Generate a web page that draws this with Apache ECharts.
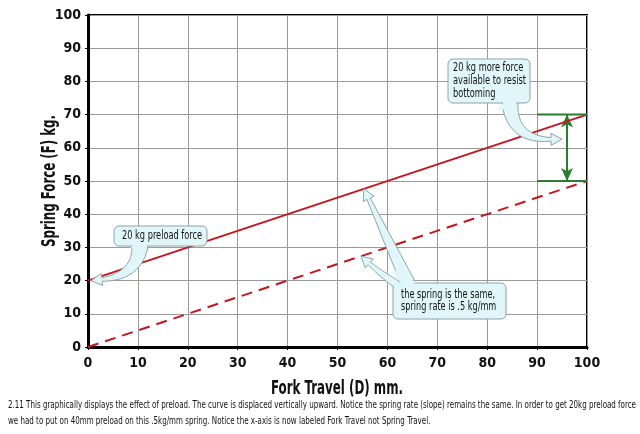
<!DOCTYPE html>
<html><head><meta charset="utf-8">
<script src="https://cdn.jsdelivr.net/npm/echarts@6/dist/echarts.min.js"></script>
<style>html,body{margin:0;padding:0;background:#fff}#c{width:640px;height:434px}</style>
</head><body><div id="c"></div>
<script>
// ---- data ----
const axisMin = 0, axisMax = 100, axisStep = 10;
const preloadLine = [[0, 20], [100, 70]];     // with 20 kg preload
const noPreloadLine = [[0, 0], [100, 50]];    // without preload (dashed)
const diffTop = [[90, 70], [100, 70]];
const diffBottom = [[90, 50], [100, 50]];
const diffArrow = [[96, 70], [96, 50]];
const xName = 'Fork Travel (D) mm.';
const yName = 'Spring Force (F) kg.';
const captionLines = [
  '2.11 This graphically displays the effect of preload. The curve is displaced vertically upward. Notice the spring rate (slope) remains the same. In order to get 20kg preload force',
  'we had to put on 40mm preload on this .5kg/mm spring. Notice the x-axis is now labeled Fork Travel not Spring Travel.'
];
const callout1Text = '20 kg preload force';
const callout2Text = '20 kg more force\navailable to resist\nbottoming';
const callout3Text = 'the spring is the same,\nspring rate is .5 kg/mm';
const tip1 = [0.4, 20];
const tip2 = [95, 62.6];
const tip3a = [55.3, 47.65];
const tip3b = [54.7, 27.35];

const NF = "'Liberation Sans Narrow','DejaVu Sans Condensed',sans-serif";
const RED = '#c4161c', GREEN = '#2a7d2e';
const FILL = '#e1f6f8', STROKE = '#8fa3a8';

const ctx = document.createElement('canvas').getContext('2d');
function measure(t, size, weight) { ctx.font = (weight || 'normal') + ' ' + size + 'px ' + NF; return ctx.measureText(t).width; }

const chart = echarts.init(document.getElementById('c'), null, {renderer: 'canvas'});
const axisCommon = {
  type: 'value', min: axisMin, max: axisMax, interval: axisStep,
  axisLine: {show: true, onZero: false, lineStyle: {color: '#000', width: 3}},
  axisTick: {show: true, length: 3, lineStyle: {color: '#000', width: 1}},
  axisLabel: {fontFamily: NF, fontWeight: 'bold', fontSize: 14, color: '#111'},
  splitLine: {show: true, lineStyle: {color: '#9a9a9a', width: 1}}
};
chart.setOption({
  animation: false,
  backgroundColor: '#fff',
  grid: {left: 88, right: 53, top: 15, bottom: 87, show: true, borderColor: '#000', borderWidth: 2, backgroundColor: 'transparent'},
  xAxis: Object.assign({}, axisCommon, {axisLabel: Object.assign({}, axisCommon.axisLabel, {margin: 9})}),
  yAxis: Object.assign({}, axisCommon, {axisLabel: Object.assign({}, axisCommon.axisLabel, {margin: 7})}),
  series: [
    {type: 'line', data: preloadLine, symbol: 'none', lineStyle: {color: RED, width: 2}, z: 5},
    {type: 'line', data: noPreloadLine, symbol: 'none', lineStyle: {color: RED, width: 2, type: [11, 7]}, z: 5},
    {type: 'line', data: diffTop, symbol: 'none', lineStyle: {color: GREEN, width: 2}, z: 6},
    {type: 'line', data: diffBottom, symbol: 'none', lineStyle: {color: GREEN, width: 2}, z: 6,
      markLine: {silent: true, symbol: ['arrow', 'arrow'], symbolSize: [9, 13], label: {show: false},
        lineStyle: {color: GREEN, width: 2, type: 'solid'},
        data: [[{coord: diffArrow[0]}, {coord: diffArrow[1]}]]}}
  ]
});

function px(d) { return chart.convertToPixel({gridIndex: 0}, d); }
function tailPoints(b, hw, c, t) {
  const head = 11, wing = 6, neckHW = 1.8;
  let dx = t[0] - c[0], dy = t[1] - c[1]; const L = Math.hypot(dx, dy); dx /= L; dy /= L;
  const n = [t[0] - dx * head, t[1] - dy * head];
  const left = [], right = [], N = 24;
  for (let i = 0; i <= N; i++) {
    const s = i / N;
    const x = (1 - s) * (1 - s) * b[0] + 2 * (1 - s) * s * c[0] + s * s * n[0];
    const y = (1 - s) * (1 - s) * b[1] + 2 * (1 - s) * s * c[1] + s * s * n[1];
    let tx = 2 * (1 - s) * (c[0] - b[0]) + 2 * s * (n[0] - c[0]);
    let ty = 2 * (1 - s) * (c[1] - b[1]) + 2 * s * (n[1] - c[1]);
    const tl = Math.hypot(tx, ty) || 1; const nx = -ty / tl, ny = tx / tl;
    const w = hw * (1 - s) + neckHW * s;
    left.push([x + nx * w, y + ny * w]); right.push([x - nx * w, y - ny * w]);
  }
  const pn = [-dy, dx];
  return left.concat([[n[0] + pn[0] * wing, n[1] + pn[1] * wing], t, [n[0] - pn[0] * wing, n[1] - pn[1] * wing]], right.reverse());
}
function basePatch(b, hw, c) {
  const s = 0.12;
  const x = (1 - s) * (1 - s) * b[0] + 2 * (1 - s) * s * c[0];
  const y = (1 - s) * (1 - s) * b[1] + 2 * (1 - s) * s * c[1];
  let tx = c[0] - b[0], ty = c[1] - b[1]; const tl = Math.hypot(tx, ty); const nx = -ty / tl, ny = tx / tl;
  const w = hw - 1;
  return [[b[0] + nx * w, b[1] + ny * w], [x + nx * w, y + ny * w], [x - nx * w, y - ny * w], [b[0] - nx * w, b[1] - ny * w], [b[0] - tx/tl*3 - nx*w, b[1] - ty/tl*3 - ny*w], [b[0] - tx/tl*3 + nx*w, b[1] - ty/tl*3 + ny*w]];
}
function callout(box, text, tails, lh, widest, targetW) {
  const els = [];
  tails.forEach(t => els.push({type: 'polygon', shape: {points: tailPoints(t.b, t.hw, t.c, t.tip)}, style: {fill: FILL, stroke: STROKE, lineWidth: 1}, z: 100}));
  els.push({type: 'rect', shape: {x: box[0], y: box[1], width: box[2], height: box[3], r: 5}, style: {fill: FILL, stroke: STROKE, lineWidth: 1}, z: 101});
  tails.forEach(t => els.push({type: 'polygon', shape: {points: basePatch(t.b, t.hw, t.c)}, style: {fill: FILL}, z: 102}));
  const sc = targetW / measure(widest, 12);
  els.push({type: 'text', x: box[0] + box[4], y: box[1] + box[3] / 2, scaleX: sc, style: {text: text, fontFamily: NF, fontSize: 12, fill: '#111', lineHeight: lh, verticalAlign: 'middle', align: 'left'}, z: 103});
  return els;
}
const p1 = px(tip1), p2 = px(tip2), p3a = px(tip3a), p3b = px(tip3b);
let g = [];
g = g.concat(callout([114, 226, 93, 20, 8], callout1Text, [{b: [140, 246], hw: 8, c: [137, 276], tip: [p1[0] + 1, p1[1]]}], 14, callout1Text, 80));
g = g.concat(callout([448, 59, 82, 44, 5], callout2Text, [{b: [510, 103], hw: 8, c: [512, 140], tip: p2}], 12.7, 'available to resist', 73));
g = g.concat(callout([393, 283, 113, 36, 8], callout3Text, [
  {b: [408, 283], hw: 7, c: [388, 240], tip: p3a},
  {b: [399, 286], hw: 4, c: [380, 273], tip: p3b}
], 12.7, 'the spring is the same,', 94));

// axis names (condensed)
const nameSize = 19;
const xsc = 132 / measure(xName, nameSize, 'bold');
g.push({type: 'text', x: 337, y: 389, scaleX: xsc, style: {text: xName, fontFamily: NF, fontWeight: 'bold', fontSize: nameSize, fill: '#111', align: 'center', verticalAlign: 'middle'}, z: 50});
const ysc = 132 / measure(yName, nameSize, 'bold');
g.push({type: 'text', x: 50, y: 181, rotation: Math.PI / 2, scaleX: ysc, style: {text: yName, fontFamily: NF, fontWeight: 'bold', fontSize: nameSize, fill: '#111', align: 'center', verticalAlign: 'middle'}, z: 50});

// caption, horizontally condensed to fit width
const csc = 628 / measure(captionLines[0], 11);
captionLines.forEach((t, i) => g.push({type: 'text', x: 8, y: 405 + i * 16, scaleX: csc, style: {text: t, fontFamily: NF, fontSize: 11, fill: '#111', verticalAlign: 'middle', align: 'left'}, z: 50}));
chart.setOption({graphic: g});
</script>
</body></html>
